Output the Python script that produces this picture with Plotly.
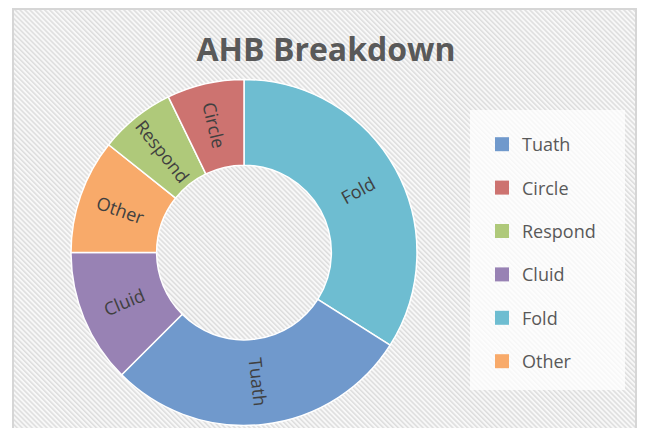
import base64
import math
import plotly.graph_objects as go

# ---- data (legend order) ----
labels = ["Tuath", "Circle", "Respond", "Cluid", "Fold", "Other"]
values = [28.5, 7.2, 7.1, 12.5, 34.0, 10.7]
colors = ["#7099CC", "#CD7370", "#AFC97A", "#9882B4", "#6EBDD1", "#F8AA6A"]
# clockwise drawing order starting at 12 o'clock
slice_order = ["Fold", "Tuath", "Cluid", "Other", "Respond", "Circle"]

W, H = 645, 428

idx = [labels.index(s) for s in slice_order]
pie_labels = [labels[i] for i in idx]
pie_values = [values[i] for i in idx]
pie_colors = [colors[i] for i in idx]

fig = go.Figure()

# donut geometry (pixels)
cx, cy, r, hole = 244, 252.5, 173, 0.505
fig.add_trace(go.Pie(
    labels=pie_labels,
    values=pie_values,
    sort=False,
    direction="clockwise",
    rotation=0,
    hole=hole,
    marker=dict(colors=pie_colors, line=dict(color="white", width=1.5)),
    textinfo="none",
    showlegend=False,
    domain=dict(x=[(cx - r) / W, (cx + r) / W], y=[1 - (cy + r) / H, 1 - (cy - r) / H]),
    hoverinfo="label+percent",
))

# radial slice labels placed at the middle of each slice
annotations = []
total = sum(pie_values)
cum = 0.0
rm = r * (1 + hole) / 2
for lab, v in zip(pie_labels, pie_values):
    mid = (cum + v / 2) / total * 360.0
    cum += v
    a = math.radians(mid)
    px = cx + rm * math.sin(a)
    py = cy - rm * math.cos(a)
    ang = mid - 90 if mid < 180 else mid - 270
    annotations.append(dict(
        text=lab, x=px / W, y=1 - py / H, xref="paper", yref="paper",
        showarrow=False, textangle=ang, xanchor="center", yanchor="middle",
        font=dict(family="Open Sans", size=18, color="#404040"),
    ))

# legend entries in the original order
for lab, col in zip(labels, colors):
    fig.add_trace(go.Scatter(
        x=[None], y=[None], mode="markers", name=lab, legendgroup=lab,
        marker=dict(symbol="square", size=14, color=col),
    ))

# hatched background image
svg = (
    '<svg xmlns="http://www.w3.org/2000/svg" width="625" height="425">'
    '<defs><pattern id="p" width="3.5" height="3.5" patternUnits="userSpaceOnUse" '
    'patternTransform="rotate(-45)">'
    '<rect width="3.5" height="3.5" fill="#f8f8f8"/>'
    '<rect width="1.5" height="3.5" fill="#dddddd"/></pattern></defs>'
    '<rect x="1" y="1" width="623" height="440" fill="url(#p)" stroke="#d6d6d6" stroke-width="2"/>'
    '</svg>'
)
src = "data:image/svg+xml;base64," + base64.b64encode(svg.encode()).decode()

fig.update_layout(
    width=W, height=H,
    margin=dict(l=0, r=0, t=0, b=0),
    paper_bgcolor="white",
    plot_bgcolor="rgba(0,0,0,0)",
    xaxis=dict(visible=False),
    yaxis=dict(visible=False),
    annotations=annotations,
    images=[dict(source=src, xref="paper", yref="paper", x=12 / W, y=1 - 8 / H,
                 sizex=625 / W, sizey=425 / H, sizing="stretch", layer="below",
                 xanchor="left", yanchor="top")],
    shapes=[dict(type="rect", xref="paper", yref="paper",
                 x0=470 / W, x1=625 / W, y0=1 - 390 / H, y1=1 - 110 / H,
                 fillcolor="rgba(255,255,255,0.75)", line=dict(width=0), layer="below")],
    title=dict(text="<b>AHB Breakdown</b>", x=326 / W, xanchor="center",
               y=1 - 49.5 / H, yanchor="middle", yref="container",
               font=dict(family="Open Sans", size=32, color="#595959")),
    legend=dict(x=482 / W, xanchor="left", y=1 - 126 / H, yanchor="top",
                traceorder="grouped", tracegroupgap=17,
                bgcolor="rgba(0,0,0,0)",
                font=dict(family="Open Sans", size=18, color="#595959")),
)

fig.write_html("out.html", config={"displayModeBar": False},
               post_script="document.body.style.margin='0';")
